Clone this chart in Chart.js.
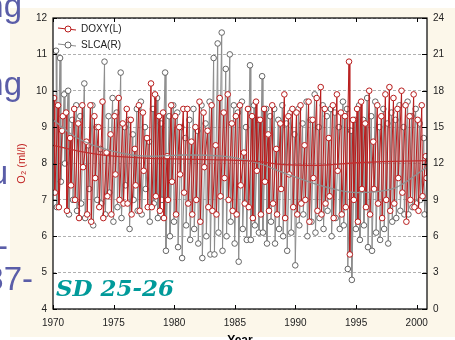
<!DOCTYPE html>
<html>
<head>
<meta charset="utf-8">
<script src="https://cdn.jsdelivr.net/npm/chart.js@4.4.1/dist/chart.umd.min.js"></script>
<style>
  html, body { margin: 0; padding: 0; background: #fff; overflow: hidden; }
  #wrap { position: relative; width: 455px; height: 340px; background: #fff; }
  #cream { position: absolute; left: 10px; top: 8px; width: 445px; height: 329px; background: #fcf7ea; }
  #chart { position: absolute; left: 0; top: 0; }
  .slide { position: absolute; font-family: "Liberation Sans", Arial, sans-serif; font-size: 33px; line-height: 1;
           color: #5a5da8; white-space: nowrap; text-align: right; }
  #sd { position: absolute; left: 56px; top: 276px; font: italic bold 23px "DejaVu Serif", serif; line-height: 1;
        color: #009a9a; white-space: nowrap; }
</style>
</head>
<body>
<div id="wrap">
  <div id="cream"></div>
  <canvas id="chart" width="455" height="340"></canvas>
  <div class="slide" style="right:433px; top:-11px;">ng</div>
  <div class="slide" style="right:433px; top:67px;">ng</div>
  <div class="slide" style="right:447px; top:156px;">u</div>
  <div class="slide" style="right:447px; top:229px;">-</div>
  <div class="slide" style="right:422px; top:262px;">87-</div>
  <div id="sd">SD 25-26</div>
</div>
<script>
// sampling months inside each year (cruises: pairs of samples close together)
const firstYear = 1970;
const doxyMonths = [1.5, 2.3, 5.5, 6.3, 9.5, 10.3];
const slcaMonths = [3.5, 4.3, 7.5, 8.3, 11.5, 12.3];

// DOXY, O2 ml/l (left axis), one row per year 1970..2000
const doxyO2 = [
  [9.8, 7.2, 9.6, 6.8, 8.9, 9.3],
  [9.4, 6.7, 8.7, 7.4, 9.5, 7.0],
  [9.1, 6.5, 9.6, 7.9, 8.6, 6.6],
  [9.6, 6.4, 9.3, 7.6, 9.0, 6.8],
  [9.7, 6.5, 8.3, 7.1, 8.8, 6.6],
  [9.3, 7.7, 9.8, 7.0, 9.1, 6.9],
  [9.5, 6.9, 9.2, 6.6, 8.4, 7.4],
  [9.6, 6.7, 9.4, 7.8, 8.7, 6.8],
  [10.2, 6.8, 9.9, 7.1, 9.3, 6.7],
  [9.4, 6.5, 8.2, 7.0, 9.6, 7.5],
  [9.3, 6.6, 9.0, 7.7, 9.5, 7.2],
  [9.5, 6.9, 8.6, 6.6, 9.0, 7.0],
  [9.7, 6.4, 9.4, 7.9, 8.9, 6.8],
  [9.6, 6.7, 8.5, 6.6, 9.8, 7.1],
  [9.4, 7.6, 9.9, 7.0, 9.1, 6.7],
  [9.3, 6.6, 9.6, 7.4, 8.3, 6.9],
  [9.5, 6.8, 9.3, 6.5, 9.7, 7.8],
  [9.2, 6.6, 9.5, 7.5, 8.8, 6.7],
  [9.6, 6.9, 8.4, 6.6, 9.1, 7.3],
  [9.9, 6.5, 9.3, 7.7, 9.5, 6.8],
  [9.4, 6.6, 9.6, 6.9, 8.5, 7.0],
  [9.7, 6.4, 9.2, 7.6, 9.8, 6.7],
  [10.1, 6.6, 9.5, 6.9, 8.7, 7.1],
  [9.6, 6.5, 9.9, 7.8, 9.4, 6.6],
  [9.3, 6.8, 10.8, 5.5, 9.2, 7.0],
  [9.5, 6.4, 9.7, 7.3, 9.1, 6.8],
  [10.0, 6.6, 8.6, 7.3, 9.6, 6.9],
  [9.3, 6.5, 9.9, 7.0, 10.1, 6.7],
  [9.8, 6.9, 9.5, 7.6, 10.0, 7.2],
  [9.6, 6.4, 9.3, 7.0, 9.9, 6.8],
  [9.2, 6.7, 9.6, 7.1, 8.2, 7.6]
];

// SLCA (right axis), one row per year 1970..2000
const slcaR = [
  [21.3, 8.4, 20.7, 10.5, 17.7, 12.0],
  [18.0, 7.8, 15.6, 9.0, 16.8, 8.1],
  [15.9, 8.7, 18.6, 7.5, 13.5, 9.9],
  [16.8, 6.9, 15.0, 9.0, 13.2, 8.7],
  [20.4, 7.8, 15.9, 9.6, 17.4, 7.2],
  [16.2, 8.4, 19.5, 7.5, 15.0, 10.2],
  [15.6, 6.6, 14.4, 9.0, 16.5, 8.1],
  [17.1, 7.8, 15.0, 9.9, 13.8, 7.2],
  [16.5, 8.7, 17.4, 7.5, 15.3, 9.0],
  [19.5, 4.8, 15.9, 6.0, 16.8, 7.2],
  [16.2, 5.1, 15.0, 4.2, 14.1, 6.9],
  [15.6, 5.7, 16.5, 6.6, 14.7, 5.4],
  [16.8, 4.2, 15.3, 6.0, 17.1, 4.5],
  [20.7, 4.5, 21.9, 6.3, 22.8, 4.8],
  [19.8, 6.0, 21.0, 7.2, 16.8, 5.4],
  [16.2, 3.9, 17.1, 6.6, 15.0, 5.7],
  [20.1, 5.7, 16.8, 6.9, 15.6, 6.3],
  [19.2, 6.3, 16.5, 5.4, 15.9, 7.2],
  [16.5, 5.4, 15.6, 6.6, 16.8, 6.0],
  [15.3, 4.8, 16.2, 6.3, 14.4, 3.6],
  [16.5, 6.9, 15.3, 7.8, 17.1, 6.0],
  [15.6, 7.2, 17.7, 6.3, 15.0, 7.5],
  [16.8, 6.6, 15.9, 8.1, 16.5, 6.0],
  [16.2, 7.5, 15.0, 6.6, 17.1, 6.9],
  [16.5, 3.3, 14.7, 2.4, 15.6, 6.6],
  [16.8, 5.7, 15.6, 6.9, 17.4, 5.1],
  [15.9, 4.8, 17.1, 6.3, 15.0, 5.7],
  [16.5, 6.6, 15.3, 5.4, 16.2, 7.2],
  [15.6, 7.5, 16.8, 8.1, 15.0, 7.8],
  [17.1, 7.8, 15.9, 8.4, 16.5, 8.7],
  [15.3, 9.0, 14.1, 7.8, 12.0, 9.6]
];

// smoothed trend curves
const smoothYears = [1970, 1972, 1975, 1978, 1981, 1984, 1987, 1989, 1992, 1995, 1998, 2000.85];
const doxySmooth = [8.5, 8.35, 8.2, 8.14, 8.12, 8.1, 8.05, 7.97, 7.95, 8.02, 8.06, 8.08];
const slcaSmooth = [15.6, 14.1, 13.0, 12.6, 12.7, 12.6, 12.0, 11.25, 10.2, 9.6, 9.9, 11.7];

const yTicks = [4, 5, 6, 7, 8, 9, 10, 11, 12];
const xTicks = [1970, 1975, 1980, 1985, 1990, 1995, 2000];

function toPoints(rows, months) {
  const pts = [];
  rows.forEach((row, i) => {
    row.forEach((v, j) => pts.push({x: firstYear + i + (months[j] - 0.5) / 12, y: v}));
  });
  return pts;
}

const RED = '#b81c1c';
const GREY = '#8c8c8c';

const framePlugin = {
  id: 'frame',
  beforeDraw(chart) {
    const a = chart.chartArea, ctx = chart.ctx;
    ctx.save();
    ctx.fillStyle = '#ffffff';
    ctx.fillRect(a.left, a.top, a.right - a.left, a.bottom - a.top);
    ctx.restore();
  },
  afterDraw(chart) {
    const a = chart.chartArea, ctx = chart.ctx;
    const xs = chart.scales.x, ys = chart.scales.y;
    ctx.save();
    ctx.strokeStyle = '#000';
    ctx.lineWidth = 1.2;
    ctx.strokeRect(a.left, a.top, a.right - a.left, a.bottom - a.top);
    ctx.lineWidth = 1;
    ctx.beginPath();
    xTicks.forEach(t => {
      const px = Math.round(xs.getPixelForValue(t)) + 0.5;
      ctx.moveTo(px, a.bottom); ctx.lineTo(px, a.bottom - 4);
      ctx.moveTo(px, a.top); ctx.lineTo(px, a.top + 4);
    });
    yTicks.forEach(t => {
      const py = Math.round(ys.getPixelForValue(t)) + 0.5;
      ctx.moveTo(a.left, py); ctx.lineTo(a.left + 4, py);
      ctx.moveTo(a.right, py); ctx.lineTo(a.right - 5, py);
    });
    ctx.stroke();

    // legend inside the plot
    const items = [['DOXY(L)', RED, RED], ['SLCA(R)', GREY, '#666']];
    ctx.font = '10px "Liberation Sans", Arial, sans-serif';
    ctx.textBaseline = 'middle';
    items.forEach((it, i) => {
      const y = a.top + 11 + i * 16;
      const x0 = a.left + 5;
      ctx.strokeStyle = it[1];
      ctx.beginPath();
      ctx.moveTo(x0, y - 1); ctx.lineTo(x0 + 18, y + 1);
      ctx.stroke();
      ctx.beginPath();
      ctx.arc(x0 + 10, y, 3, 0, Math.PI * 2);
      ctx.fillStyle = '#fff';
      ctx.fill();
      ctx.strokeStyle = it[2];
      ctx.stroke();
      ctx.fillStyle = '#222';
      ctx.fillText(it[0], x0 + 23, y);
    });
    ctx.restore();
  }
};

const tickFont = {family: '"Liberation Sans", Arial, sans-serif', size: 10};

new Chart(document.getElementById('chart'), {
  type: 'line',
  data: {
    datasets: [
      {
        label: 'DOXY(L)', yAxisID: 'y', order: 1,
        data: toPoints(doxyO2, doxyMonths),
        borderColor: RED, borderWidth: 1,
        pointRadius: 2.8, pointBorderWidth: 1, pointBorderColor: RED, pointBackgroundColor: '#fff'
      },
      {
        label: 'SLCA(R)', yAxisID: 'y2', order: 2,
        data: toPoints(slcaR, slcaMonths),
        borderColor: GREY, borderWidth: 1,
        pointRadius: 2.8, pointBorderWidth: 1, pointBorderColor: '#666', pointBackgroundColor: '#fff'
      },
      {
        label: 'doxy smooth', yAxisID: 'y', order: 0,
        data: smoothYears.map((x, i) => ({x, y: doxySmooth[i]})),
        borderColor: '#c03030', borderWidth: 1.3, pointRadius: 0, cubicInterpolationMode: 'monotone'
      },
      {
        label: 'slca smooth', yAxisID: 'y2', order: 0,
        data: smoothYears.map((x, i) => ({x, y: slcaSmooth[i]})),
        borderColor: '#909090', borderWidth: 1.3, pointRadius: 0, cubicInterpolationMode: 'monotone'
      }
    ]
  },
  options: {
    responsive: false,
    animation: false,
    devicePixelRatio: 1,
    layout: {padding: {top: 18, left: 0, right: 0, bottom: 0}},
    plugins: {legend: {display: false}, tooltip: {enabled: false}},
    scales: {
      x: {
        type: 'linear', min: 1970, max: 2000.85,
        afterFit: s => { s.height = 31; },
        afterBuildTicks: s => { s.ticks = xTicks.map(v => ({value: v})); },
        grid: {display: false, drawTicks: false},
        border: {display: false},
        ticks: {
          padding: 8, color: '#222', font: tickFont, maxRotation: 0,
          callback: v => String(v)
        },
        title: {display: true, text: 'Year', color: '#000',
                font: {family: '"Liberation Sans", Arial, sans-serif', size: 12, weight: 'bold'},
                padding: {top: 0, bottom: -8}}
      },
      y: {
        position: 'left', min: 4, max: 12,
        afterFit: s => { s.width = 53; },
        grid: {color: '#b0b0b0', drawTicks: false},
        border: {display: false, dash: [3, 2]},
        ticks: {stepSize: 1, padding: 6, color: '#222', font: tickFont},
        title: {display: true, text: 'O\u2082 (ml/l)', color: '#c02020',
                font: {family: '"Liberation Sans", Arial, sans-serif', size: 11},
                padding: {top: 15, bottom: 0}}
      },
      y2: {
        position: 'right', min: 0, max: 24,
        afterFit: s => { s.width = 28; },
        grid: {display: false, drawTicks: false},
        border: {display: false},
        ticks: {stepSize: 3, padding: 6, color: '#222', font: tickFont}
      }
    }
  },
  plugins: [framePlugin]
});
</script>
</body>
</html>
